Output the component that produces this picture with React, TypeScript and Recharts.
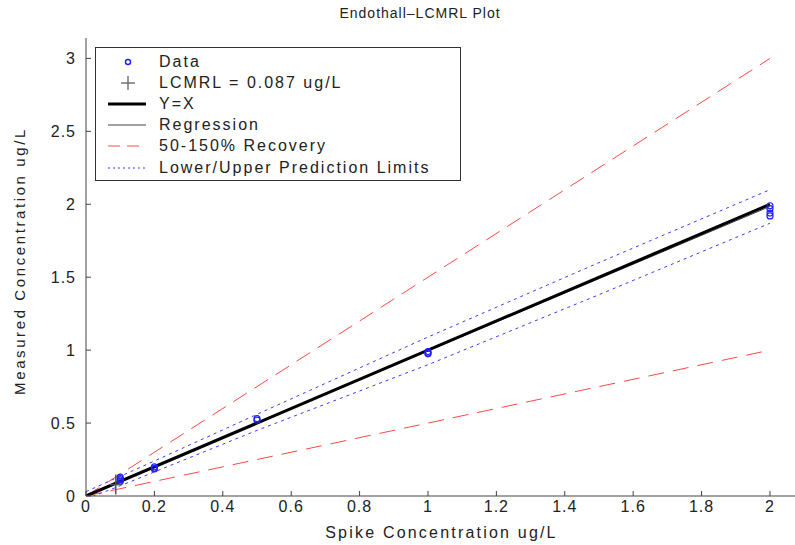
import React from "react";
import {
  ComposedChart,
  Line,
  Scatter,
  XAxis,
  YAxis,
  Label,
} from "recharts";

// spike levels and measured recoveries (ug/L)
const spikeX = [0.1, 0.1, 0.1, 0.1, 0.2, 0.2, 0.2, 0.5, 0.5, 1, 1, 1, 2, 2, 2, 2];
const measuredY = [0.1, 0.11, 0.12, 0.13, 0.185, 0.19, 0.2, 0.52, 0.53, 0.975, 0.98, 0.99, 1.92, 1.94, 1.97, 1.99];

const lcmrlX = [0.087];
const lcmrlY = [0.078];

const lineX = [0, 2];
const identityY = [0, 2];
const regressionY = [0.006, 1.985];
const lowRecoveryY = [0, 1];
const highRecoveryY = [0, 3];

const predX = [0, 0.1, 0.2, 0.5, 1, 1.5, 2];
const upperPredY = [0.03, 0.135, 0.24, 0.56, 1.09, 1.6, 2.1];
const lowerPredY = [-0.02, 0.07, 0.165, 0.45, 0.9, 1.38, 1.87];

const xTicks = [0, 0.2, 0.4, 0.6, 0.8, 1, 1.2, 1.4, 1.6, 1.8, 2];
const yTicks = [0, 0.5, 1, 1.5, 2, 2.5, 3];

const legendLabels = [
  "Data",
  "LCMRL = 0.087 ug/L",
  "Y=X",
  "Regression",
  "50-150% Recovery",
  "Lower/Upper Prediction Limits",
];

const toPoints = (xs: number[], ys: number[]) => xs.map((x, i) => ({ x, y: ys[i] }));

const dataPts = toPoints(spikeX, measuredY);
const lcmrlPts = toPoints(lcmrlX, lcmrlY);
const identity = toPoints(lineX, identityY);
const regression = toPoints(lineX, regressionY);
const lowRecovery = toPoints(lineX, lowRecoveryY);
const highRecovery = toPoints(lineX, highRecoveryY);
const upperPred = toPoints(predX, upperPredY);
const lowerPred = toPoints(predX, lowerPredY);

const FONT = "'Liberation Sans', Arial, sans-serif";
const RED = "#ff4848";
const BLUE = "#3a3aff";

function Circle(props: any) {
  const { cx, cy } = props;
  return <circle cx={cx} cy={cy} r={3} fill="none" stroke="#2020ff" strokeWidth={1.2} />;
}

function Cross(props: any) {
  const { cx, cy } = props;
  return (
    <g stroke="#555" strokeWidth={1.5}>
      <line x1={cx} y1={cy - 10} x2={cx} y2={cy + 10} />
      <line x1={cx - 6} y1={cy} x2={cx + 6} y2={cy} />
    </g>
  );
}

function LegendSymbol({ i }: { i: number }) {
  return (
    <svg width={40} height={20} style={{ display: "block" }}>
      {i === 0 && <circle cx={21} cy={10} r={2.5} fill="none" stroke="#2020ff" strokeWidth={1.4} />}
      {i === 1 && (
        <g stroke="#555" strokeWidth={1.2}>
          <line x1={21} y1={3} x2={21} y2={17} />
          <line x1={14} y1={10} x2={28} y2={10} />
        </g>
      )}
      {i === 2 && <line x1={1} y1={10} x2={39} y2={10} stroke="#000" strokeWidth={3} />}
      {i === 3 && <line x1={1} y1={10} x2={39} y2={10} stroke="#444" strokeWidth={1} />}
      {i === 4 && <line x1={1} y1={10} x2={39} y2={10} stroke={RED} strokeWidth={1} strokeDasharray="12 7" />}
      {i === 5 && <line x1={1} y1={10} x2={39} y2={10} stroke={BLUE} strokeWidth={1} strokeDasharray="2 3" />}
    </svg>
  );
}

export default function App() {
  const tickStyle = { fontSize: 16, fill: "#222", fontFamily: FONT, letterSpacing: 1 };
  return (
    <div style={{ position: "relative", width: 795, height: 545, overflow: "hidden", background: "#fff" }}>
      <style>{`body{margin:0}`}</style>
      <div
        style={{
          position: "absolute",
          left: 270,
          width: 300,
          top: 5,
          textAlign: "center",
          fontFamily: FONT,
          fontSize: 14,
          letterSpacing: 1,
          color: "#222",
        }}
      >
        Endothall–LCMRL Plot
      </div>
      <ComposedChart
        width={800}
        height={545}
        margin={{ top: 38, right: 3, bottom: 0, left: 0 }}
        style={{ fontFamily: FONT }}
      >
        <XAxis
          xAxisId={0}
          type="number"
          dataKey="x"
          domain={[0, 2.079]}
          allowDataOverflow
          ticks={xTicks}
          tickSize={-5}
          tickMargin={10}
          height={49}
          stroke="#444"
          tick={tickStyle}
        >
          <Label
            value="Spike Concentration ug/L"
            position="insideBottom"
            offset={7}
            style={{ fontSize: 16, fill: "#222", letterSpacing: 2.2, fontFamily: FONT }}
          />
        </XAxis>
        <XAxis
          xAxisId="top"
          orientation="top"
          type="number"
          dataKey="x"
          domain={[0, 2.079]}
          allowDataOverflow
          ticks={xTicks}
          tickSize={-5}
          tickFormatter={() => ""}
          height={0}
          stroke="#444"
        />
        <YAxis
          yAxisId={0}
          type="number"
          dataKey="y"
          domain={[0, 3.14]}
          allowDataOverflow
          ticks={yTicks}
          tickSize={-5}
          tickMargin={15}
          width={86}
          stroke="#444"
          tick={tickStyle}
        >
          <Label
            value="Measured Concentration ug/L"
            angle={-90}
            position="insideLeft"
            offset={20}
            dy={-6}
            style={{ fontSize: 15, fill: "#222", letterSpacing: 2.6, textAnchor: "middle", fontFamily: FONT }}
          />
        </YAxis>
        <YAxis
          yAxisId="right"
          orientation="right"
          type="number"
          domain={[0, 3.14]}
          ticks={yTicks}
          tickSize={-5}
          tickFormatter={() => ""}
          width={0}
          stroke="#444"
        />
        <Line data={highRecovery} dataKey="y" stroke={RED} strokeWidth={1} strokeDasharray="16 9" dot={false} isAnimationActive={false} />
        <Line data={lowRecovery} dataKey="y" stroke={RED} strokeWidth={1} strokeDasharray="16 9" dot={false} isAnimationActive={false} />
        <Line data={upperPred} dataKey="y" stroke={BLUE} strokeWidth={1} strokeDasharray="3 4" dot={false} isAnimationActive={false} />
        <Line data={lowerPred} dataKey="y" stroke={BLUE} strokeWidth={1} strokeDasharray="3 4" dot={false} isAnimationActive={false} />
        <Line data={regression} dataKey="y" stroke="#444" strokeWidth={1} dot={false} isAnimationActive={false} />
        <Line data={identity} dataKey="y" stroke="#000" strokeWidth={3} dot={false} isAnimationActive={false} />
        <Scatter data={dataPts} dataKey="y" shape={<Circle />} isAnimationActive={false} />
        <Scatter data={lcmrlPts} dataKey="y" shape={<Cross />} isAnimationActive={false} />
      </ComposedChart>
      <div
        style={{
          position: "absolute",
          left: 95,
          top: 47,
          width: 366,
          height: 134,
          border: "1px solid #333",
          background: "#fff",
          fontFamily: FONT,
          fontSize: 16,
          letterSpacing: 2,
          color: "#222",
          paddingTop: 3,
          boxSizing: "border-box",
        }}
      >
        {legendLabels.map((label, i) => (
          <div key={label} style={{ display: "flex", alignItems: "center", height: 21.2 }}>
            <div style={{ marginLeft: 11, width: 52 }}>
              <LegendSymbol i={i} />
            </div>
            <span>{label}</span>
          </div>
        ))}
      </div>
    </div>
  );
}
